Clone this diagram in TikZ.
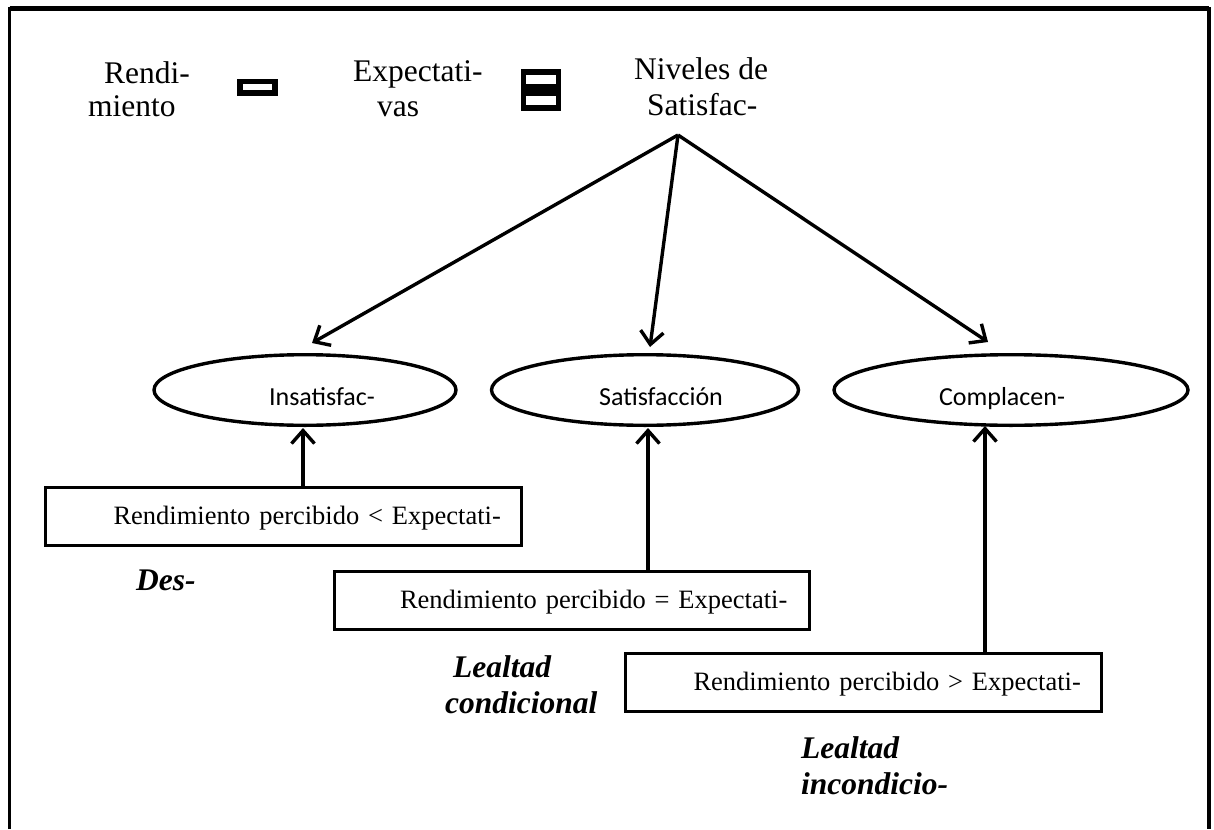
\documentclass[tikz,border=0pt]{standalone}
\usepackage{fontspec}
\setmainfont{Liberation Serif}
\newfontfamily\ellfont{Carlito}
\newfontface\loyalfont{Liberation Serif Bold Italic}
\usetikzlibrary{arrows.meta,shapes.geometric}

\begin{document}
\begin{tikzpicture}[x=1pt,y=-1pt,
  thick line/.style={line width=3.4pt},
  conn/.style={thick line,-{Straight Barb[length=13pt,width=23pt,line width=3.4pt]}},
  toptext/.style={anchor=base west,inner sep=0pt,font=\fontsize{31.5}{36}\selectfont},
  levelell/.style={draw,thick line,ellipse,inner sep=0pt,minimum height=70.6pt,
    text height=30pt,text depth=0pt,font=\ellfont\fontsize{26}{30}\selectfont},
  condbox/.style={draw,thick line,inner sep=0pt,minimum height=57.6pt,
    text height=19pt,text depth=3pt,font=\fontsize{26.5}{30}\selectfont},
  symbox/.style={draw,line width=5.5pt,inner sep=0pt,minimum width=35pt},
  loyal/.style={anchor=base west,inner sep=0pt,font=\loyalfont\fontsize{31.5}{36}\selectfont}
]
\useasboundingbox (0,0) rectangle (1214,829);

% outer frame, open at the bottom
\draw[line width=3.5pt] (9.5,829) -- (9.5,9) -- (1209,9) -- (1209,829);
\draw[line width=5pt] (9.5,9) -- (1209,9);

% heading: Rendimiento - Expectativas = Niveles de Satisfaccion
\node[toptext] (rendA) at (104,84) {Rendi-};
\node[toptext] (rendB) at (88,117) {miento};
\node[symbox,minimum height=11.5pt] (minus) at (257.5,87.5) {};
\node[toptext] (expeA) at (353,82) {Expectati-};
\node[toptext] (expeB) at (377,117) {vas};
\node[symbox,minimum height=15pt] (eqtop) at (541,79.5) {};
\node[symbox,minimum height=15pt] (eqbot) at (541,100.5) {};
\node[toptext] (niveA) at (634,80) {Niveles de};
\node[toptext] (niveB) at (647,116) {Satisfac-};

% satisfaction levels
\node[levelell,minimum width=302pt] (insat) at (305,390) {\hspace*{34pt}Insatisfac-};
\node[levelell,minimum width=307pt] (satis) at (645,390) {\hspace*{32pt}Satisfacción};
\node[levelell,minimum width=354pt] (compl) at (1011,390) {Complacen-\hspace*{18pt}};

% branching arrows
\coordinate (apex) at (678,135);
\coordinate (tipL) at (312,343);
\coordinate (tipM) at (650,347);
\coordinate (tipR) at (988,342);
\draw[conn] (apex) -- (tipL);
\draw[conn] (apex) -- (tipM);
\draw[conn] (apex) -- (tipR);

% comparison boxes
\node[condbox,minimum width=475.6pt,text width=468pt,align=left] (box1) at (283.5,516.5)
  {\hspace*{64pt}Rendimiento percibido < Expectati-};
\node[condbox,minimum width=474.6pt,text width=468pt,align=left] (box2) at (572,600.5)
  {\hspace*{62pt}Rendimiento percibido = Expectati-};
\node[condbox,minimum width=475.6pt,text width=468pt,align=left] (box3) at (863.5,682.5)
  {\hspace*{64pt}Rendimiento percibido > Expectati-};

% arrows from boxes up to the levels
\coordinate (upL) at (303,428);
\coordinate (upM) at (648,428);
\coordinate (upR) at (985,426);
\draw[conn] (box1.north -| upL) -- (upL);
\draw[conn] (box2.north -| upM) -- (upM);
\draw[conn] (box3.north -| upR) -- (upR);

% loyalty labels
\node[loyal] (des) at (136,590) {Des-};
\node[loyal] (lcondA) at (453,677) {Lealtad};
\node[loyal] (lcondB) at (445,713) {condicional};
\node[loyal] (lincA) at (801,758) {Lealtad};
\node[loyal] (lincB) at (801,794) {incondicio-};
\end{tikzpicture}
\end{document}
